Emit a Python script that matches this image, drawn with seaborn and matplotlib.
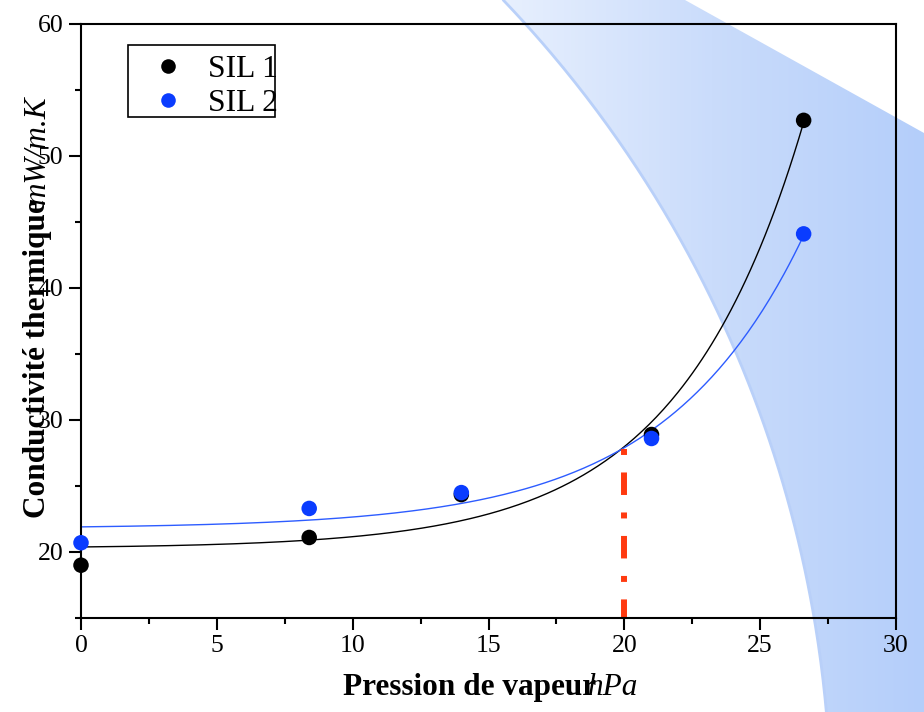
import numpy as np
import pandas as pd
import seaborn as sns
import matplotlib
matplotlib.use('Agg')
import matplotlib.pyplot as plt
from matplotlib.patches import Polygon, Rectangle
from matplotlib.lines import Line2D
from matplotlib.colors import LinearSegmentedColormap
from matplotlib.ticker import MultipleLocator

sns.set_style('ticks')
plt.rcParams['font.family'] = ['Liberation Serif', 'DejaVu Serif']
plt.rcParams['lines.scale_dashes'] = False
plt.rcParams['text.color'] = 'black'
plt.rcParams['axes.labelcolor'] = 'black'
plt.rcParams['xtick.color'] = 'black'
plt.rcParams['ytick.color'] = 'black'

# values
pression = [0, 8.4, 14, 21, 26.6]
sil1 = [19.0, 21.1, 24.35, 28.9, 52.7]
sil2 = [20.7, 23.3, 24.5, 28.6, 44.1]
series = ['SIL 1', 'SIL 2']
point_colors = {'SIL 1': 'black', 'SIL 2': '#0a3cff'}
curve_colors = {'SIL 1': 'black', 'SIL 2': '#2d5cff'}
seuil_x = 20
seuil_y = 27.8
x_ticks = [0, 5, 10, 15, 20, 25, 30]
y_ticks = [20, 30, 40, 50, 60]

df = pd.DataFrame({
    'Pression': pression * 2,
    'Conductivite': sil1 + sil2,
    'Serie': ['SIL 1'] * len(pression) + ['SIL 2'] * len(pression),
})


def exp_fit(x, y):
    # y = y0 + A*exp(x/t) : t by grid search, y0 and A by least squares
    x = np.asarray(x, float)
    y = np.asarray(y, float)
    best = None
    for t in np.linspace(1, 20, 4000):
        M = np.column_stack([np.ones_like(x), np.exp(x / t)])
        coef = np.linalg.lstsq(M, y, rcond=None)[0]
        err = np.sum((M @ coef - y) ** 2)
        if best is None or err < best[0]:
            best = (err, t, coef)
    return best[1], best[2]


fits = []
xs = np.linspace(min(pression), max(pression), 300)
for name, ys in zip(series, [sil1, sil2]):
    t, (y0, a) = exp_fit(pression, ys)
    fits.append(pd.DataFrame({'Pression': xs, 'Conductivite': y0 + a * np.exp(xs / t), 'Serie': name}))
df_fit = pd.concat(fits)

fig = plt.figure(figsize=(9.24, 7.12), dpi=100)

# decorative blue band behind the chart (pixel coordinates)
bg = fig.add_axes([0, 0, 1, 1])
bg.set_xlim(0, 924)
bg.set_ylim(712, 0)
bg.axis('off')
cx, cy, r = -351, 817, 1182
arc_y = np.linspace(0, 712, 200)
arc_x = cx + np.sqrt(r ** 2 - (arc_y - cy) ** 2)
outline = list(zip(arc_x, arc_y)) + [(924, 712), (924, 133), (685, 0)]
band = Polygon(outline, closed=True, facecolor='none', edgecolor='none')
bg.add_patch(band)
cmap = LinearSegmentedColormap.from_list('band', ['#e8f0fe', '#cadcfb', '#b4cefa'])
im = bg.imshow(np.linspace(0, 1, 256).reshape(1, -1), extent=[500, 924, 712, 0],
               cmap=cmap, aspect='auto')
im.set_clip_path(band)
bg.plot(arc_x, arc_y, color='#b9d0f9', lw=2)

ax = fig.add_axes([81 / 924, 1 - 618 / 712, 815 / 924, 594 / 712])
ax.patch.set_alpha(0)

sns.lineplot(data=df_fit, x='Pression', y='Conductivite', hue='Serie',
             palette=curve_colors, lw=1, legend=False, ax=ax)
sns.scatterplot(data=df, x='Pression', y='Conductivite', hue='Serie',
                palette=point_colors, s=125, linewidth=0, legend=False, ax=ax,
                zorder=3, clip_on=False)

ax.plot([seuil_x, seuil_x], [seuil_y, 15], color='#ff3a10', lw=4.3,
        dashes=(4.3, 12.6, 16.2, 12.6), dash_capstyle='butt', zorder=2)

ax.set_xlim(0, 30)
ax.set_ylim(15, 60)
ax.set_xticks(x_ticks)
ax.set_yticks(y_ticks)
ax.xaxis.set_minor_locator(MultipleLocator(2.5))
ax.yaxis.set_minor_locator(MultipleLocator(5))
ax.tick_params(which='major', direction='out', length=8.6, width=1.5,
               labelsize=18.5, pad=4, colors='black')
ax.tick_params(which='minor', direction='out', length=4.3, width=1.5)
ax.set_xlabel('')
ax.set_ylabel('')
for s in ax.spines.values():
    s.set_visible(True)
    s.set_linewidth(1.5)
    s.set_color('black')

# legend
handles = [Line2D([], [], ls='none', marker='o', ms=10.5, mec='none', mfc=point_colors[n]) for n in series]
ax.legend(handles, series, loc='upper left', bbox_to_anchor=(152 / 924, 1 - 55 / 712),
          bbox_transform=fig.transFigure, frameon=False, fontsize=22.7,
          handlelength=1, handletextpad=0.78, borderpad=0, borderaxespad=0,
          labelspacing=0.14)
ax.add_patch(Rectangle((47 / 815, (618 - 117) / 594), 147 / 815, 72 / 594,
                       transform=ax.transAxes, fill=False, ec='black', lw=1.2,
                       clip_on=False, zorder=1))

# axis titles (unit overlaps the title as in the original)
fig.text(343 / 924, 1 - 695 / 712, 'Pression de vapeur', fontsize=22.5,
         fontweight='bold', ha='left', va='baseline')
fig.text(588 / 924, 1 - 695 / 712, 'hPa', fontsize=22.5, style='italic',
         ha='left', va='baseline')
fig.text(45 / 924, 1 - 518 / 712, 'Conductivité thermique', fontsize=22.5,
         fontweight='bold', rotation=90, rotation_mode='anchor',
         ha='left', va='baseline')
fig.text(45 / 924, 1 - 204 / 712, 'mW/m.K', fontsize=22.5, style='italic',
         rotation=90, rotation_mode='anchor', ha='left', va='baseline')

fig.savefig('out.png', dpi=100)
